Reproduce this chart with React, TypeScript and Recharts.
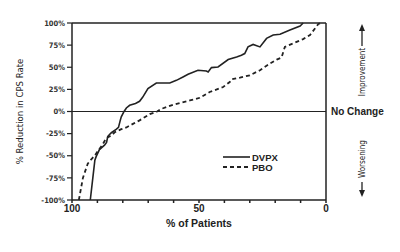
import { LineChart, Line, XAxis, YAxis, ReferenceLine } from 'recharts';

// % of patients (x, reversed axis) and % reduction in CPS rate (y)
const dvpxPct = [92.8, 91.8, 91, 90.5, 89.2, 87.2, 86.4, 85.9, 84.5, 82.5, 81.7, 81, 80.6, 79.5, 78.6, 77.3, 75, 73.4, 72.2, 70.1, 66.8, 61.5, 58.9, 56.3, 54.3, 50.4, 47.1, 46.4, 45.1, 42.5, 38.5, 35.2, 33.3, 32, 30.7, 28.7, 26, 23.4, 20.8, 18.1, 14.2, 10.2, 9];
const dvpxVal = [-100, -75, -55, -51, -43, -38, -35, -28, -24, -20, -18, -10, -6, 0, 4, 7, 9, 11.5, 16, 25.8, 32.2, 32.2, 35.2, 39, 42, 46.6, 45.8, 44.7, 49.6, 50.3, 58.7, 61.7, 63.6, 65.5, 73, 75.8, 73, 82.6, 86.4, 87.2, 92, 96.6, 100];

const pboPct = [97.3, 95.7, 93.8, 92.4, 91.1, 87.9, 86.5, 84.5, 83.2, 80.6, 78.6, 76, 73.4, 69.4, 66.5, 64.8, 60.2, 53.6, 49.7, 45.8, 40.5, 37.9, 37.2, 33.9, 30, 26, 22.1, 19.4, 17.5, 16.2, 12.9, 9, 6.3, 3, 2];
const pboVal = [-100, -75, -59, -54, -50, -37, -30, -27, -23.5, -20, -18, -14, -10, -3, 0, 3, 7.6, 12.5, 15.5, 22, 27.6, 33.3, 36.4, 38.3, 40.9, 46.6, 54.2, 58.7, 61, 73, 77, 81.8, 86.4, 98.9, 100];

const xTicks = [0, 10, 20, 30, 40, 50, 60, 70, 80, 90, 100];
const yTicks = [-100, -75, -50, -25, 0, 25, 50, 75, 100];

const dvpx = dvpxPct.map((pct, i) => ({ pct, value: dvpxVal[i] }));
const pbo = pboPct.map((pct, i) => ({ pct, value: pboVal[i] }));

const narrow = "'Liberation Sans Narrow', 'DejaVu Sans Condensed', 'Liberation Sans', sans-serif";
const sans = "'Liberation Sans', Arial, sans-serif";
const ink = '#222';

export default function App() {
  return (
    <div style={{ position: 'absolute', top: 0, left: 0, width: 400, height: 252, background: '#fff' }}>
      <LineChart width={400} height={252} margin={{ top: 23, right: 74, bottom: 0, left: 0 }}>
        <XAxis
          type="number"
          dataKey="pct"
          domain={[0, 100]}
          reversed
          ticks={xTicks}
          tickFormatter={(v) => (v % 50 === 0 ? String(v) : '')}
          tick={{ fontSize: 10, fontWeight: 'bold', fill: ink, fontFamily: sans }}
          tickSize={3}
          tickLine={{ stroke: ink, strokeWidth: 1.5 }}
          axisLine={{ stroke: ink, strokeWidth: 1.5 }}
          height={52}
          label={{ value: '% of Patients', position: 'insideBottom', offset: 25, fontSize: 10.5, fontWeight: 'bold', fill: ink, fontFamily: sans }}
        />
        <YAxis
          type="number"
          dataKey="value"
          domain={[-100, 100]}
          ticks={yTicks}
          tickFormatter={(v) => `${v}%`}
          tick={{ fontSize: 7.5, fontWeight: 'bold', fill: '#333', fontFamily: narrow }}
          tickSize={5}
          tickLine={{ stroke: ink, strokeWidth: 1.2 }}
          axisLine={{ stroke: ink, strokeWidth: 1.5 }}
          width={72}
          label={{ value: '% Reduction in CPS Rate', angle: -90, position: 'insideLeft', offset: 20, fontSize: 9.5, fill: ink, fontFamily: narrow, style: { textAnchor: 'middle' } }}
        />
        <ReferenceLine y={100} stroke={ink} strokeWidth={1.5} />
        <ReferenceLine x={0} stroke={ink} strokeWidth={1.5} />
        <ReferenceLine
          y={0}
          stroke={ink}
          strokeWidth={1}
          label={{ value: 'No Change', position: 'right', fontSize: 10, fontWeight: 'bold', fill: ink, fontFamily: sans }}
        />
        <Line data={pbo} dataKey="value" type="linear" stroke={ink} strokeWidth={1.8} strokeDasharray="4 3" dot={false} isAnimationActive={false} name="PBO" />
        <Line data={dvpx} dataKey="value" type="linear" stroke={ink} strokeWidth={1.6} dot={false} isAnimationActive={false} name="DVPX" />
      </LineChart>
      <svg width={400} height={252} style={{ position: 'absolute', top: 0, left: 0, pointerEvents: 'none' }}>
        {/* legend */}
        <g fontFamily={sans} fontSize={9.5} fontWeight="bold" fill={ink}>
          <line x1={223} y1={157} x2={250} y2={157} stroke={ink} strokeWidth={1.6} />
          <text x={252} y={160.5}>DVPX</text>
          <line x1={223} y1={167} x2={250} y2={167} stroke={ink} strokeWidth={1.8} strokeDasharray="4 3" />
          <text x={252} y={170.5}>PBO</text>
        </g>
        {/* side annotations */}
        <g fill={ink} stroke={ink} fontFamily={narrow} fontSize={8}>
          <line x1={362} y1={46} x2={362} y2={29} strokeWidth={1.3} />
          <polygon points="362,24 359,31 365,31" stroke="none" />
          <text x={0} y={0} stroke="none" textAnchor="middle" transform="translate(365,72) rotate(-90)">Improvement</text>
          <line x1={362} y1={182} x2={362} y2={191} strokeWidth={1.3} />
          <polygon points="362,197 359,190 365,190" stroke="none" />
          <text x={0} y={0} stroke="none" textAnchor="middle" transform="translate(365,159) rotate(-90)">Worsening</text>
        </g>
      </svg>
    </div>
  );
}
